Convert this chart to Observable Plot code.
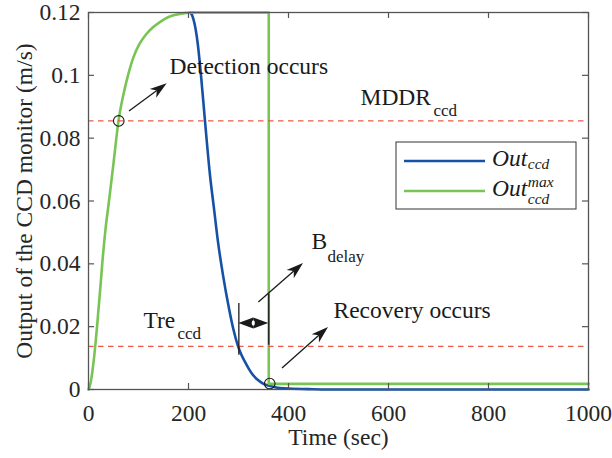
<!DOCTYPE html>
<html><head><meta charset="utf-8">
<script src="https://cdn.jsdelivr.net/npm/d3@7"></script>
<script src="https://cdn.jsdelivr.net/npm/@observablehq/plot@0.6"></script>
<style>
html,body{margin:0;padding:0;background:#fff;}
#chart{width:612px;height:458px;}
#chart svg text{font-family:"Liberation Serif","Times New Roman",serif;}
</style></head><body><div id="chart"></div>
<script>
// ---- data ----
const xTicks = [0, 200, 400, 600, 800, 1000];
const yTicks = [0, 0.02, 0.04, 0.06, 0.08, 0.1, 0.12];
const yTickLabels = ["0", "0.02", "0.04", "0.06", "0.08", "0.1", "0.12"];

const thresholdNames = ["MDDR", "Tre"];
const thresholdValues = [0.0855, 0.0137];

// Out_ccd^max (green): rise, then hold, then drop at recovery
const greenRiseT = [0, 4, 8, 12, 16, 20, 24, 28, 34, 41, 50, 60, 70, 79, 90, 102, 115, 129, 145, 159, 175, 192, 210];
const greenRiseV = [0, 0.002, 0.006, 0.0115, 0.018, 0.0255, 0.033, 0.041, 0.051, 0.060, 0.072, 0.0855, 0.094, 0.100, 0.1058, 0.110, 0.113, 0.1153, 0.1172, 0.1185, 0.1193, 0.1198, 0.12];
const greenStepT = [210, 360.5, 360.5, 1000];
const greenStepV = [0.12, 0.12, 0.0018, 0.0018];

// Out_ccd (blue): decay after the peak
const blueT = [204, 208, 212, 218, 225, 233, 243, 251, 259, 269, 281, 290, 299, 306, 313, 321, 329, 339, 349, 369, 400, 450, 500, 1000];
const blueV = [0.12, 0.1188, 0.1165, 0.1107, 0.100, 0.0854, 0.0682, 0.0576, 0.047, 0.0364, 0.0258, 0.019, 0.0138, 0.011, 0.0088, 0.0065, 0.0046, 0.003, 0.0019, 0.0009, 0.0003, 0.0001, 0, 0];

// event markers (circles)
const markerT = [60.5, 362.5];
const markerV = [0.0855, 0.0019];

// annotation arrows (tail -> tip)
const arrowX1 = [82, 340.7, 388];
const arrowY1 = [0.0885, 0.0277, 0.0067];
const arrowX2 = [157.3, 430, 480];
const arrowY2 = [0.0973, 0.0401, 0.0197];

// B_delay span
const delayBarT = [300.7, 360.5];
const delayBarLow = [0.0109, 0.0141];
const delayBarHigh = [0.0274, 0.0302];
const delaySpanV = 0.0210;

// annotation texts
const labelText = ["Detection occurs", "MDDR", "B", "Recovery occurs", "Tre"];
const labelT = [162, 544, 446, 490, 110];
const labelV = [0.1003, 0.0904, 0.0446, 0.0229, 0.0197];
const subText = ["ccd", "delay", "ccd"];
const subT = [690, 478, 178];
const subV = [0.0872, 0.0407, 0.0162];

// legend
const legendBase = ["Out", "Out"];
const legendSub = ["ccd", "ccd"];
const legendSup = ["", "max"];

// ---- styles ----
const BLUE = "#1651a6", GREEN = "#78c455", RED = "#ec5a46", AXIS = "#555", INK = "#1a1a1a";
const FONT = "Liberation Serif, Times New Roman, serif";
const FS = 23.5, SUBFS = 17;
const W = 612, H = 458, ML = 88, MR = 24, MT = 12, MB = 69;
const frameW = W - ML - MR, frameH = H - MT - MB, TICK = 6;

// ---- tables ----
const greenRise = greenRiseT.map((t, i) => ({t, v: greenRiseV[i]}));
const greenStep = greenStepT.map((t, i) => ({t, v: greenStepV[i]}));
const blue = blueT.map((t, i) => ({t, v: blueV[i]}));
const markers = markerT.map((t, i) => ({t, v: markerV[i]}));
const arrows = arrowX1.map((x1, i) => ({x1, y1: arrowY1[i], x2: arrowX2[i], y2: arrowY2[i]}));
const bars = delayBarT.map((t, i) => ({t, lo: delayBarLow[i], hi: delayBarHigh[i]}));
const labels = labelText.map((s, i) => ({s, t: labelT[i], v: labelV[i]}));
const subs = subText.map((s, i) => ({s, t: subT[i], v: subV[i]}));

function headPath(x1, y1, x2, y2, hl, hw, notch) {
  const L = Math.hypot(x2 - x1, y2 - y1), ux = (x2 - x1) / L, uy = (y2 - y1) / L;
  const px = -uy, py = ux;
  const bx = x2 - ux * hl, by = y2 - uy * hl;
  const nx = x2 - ux * hl * notch, ny = y2 - uy * hl * notch;
  return {d: `M${x2},${y2}L${bx + px * hw},${by + py * hw}L${nx},${ny}L${bx - px * hw},${by - py * hw}Z`, nx, ny};
}

const annotationMark = (index, scales) => {
  const g = d3.create("svg:g");
  for (const a of arrows) {
    const x1 = scales.x(a.x1), y1 = scales.y(a.y1), x2 = scales.x(a.x2), y2 = scales.y(a.y2);
    const h = headPath(x1, y1, x2, y2, 17, 5.5, 0.72);
    g.append("line").attr("x1", x1).attr("y1", y1).attr("x2", h.nx).attr("y2", h.ny)
      .attr("stroke", INK).attr("stroke-width", 1.3);
    g.append("path").attr("d", h.d).attr("fill", INK);
  }
  const xa = scales.x(delayBarT[0]), xb = scales.x(delayBarT[1]), yc = scales.y(delaySpanV);
  const xm = (xa + xb) / 2;
  g.append("path").attr("d", headPath(xm, yc, xa, yc, xm - xa, 5.5, 1).d).attr("fill", INK);
  g.append("path").attr("d", headPath(xm, yc, xb, yc, xb - xm, 5.5, 1).d).attr("fill", INK);
  g.append("ellipse").attr("cx", xm).attr("cy", yc).attr("rx", 1.6).attr("ry", 2.8).attr("fill", "#fff");
  return g.node();
};

const legendMark = (index, scales, values, dims) => {
  const right = dims.width - dims.marginRight - 12, top = dims.marginTop + 130;
  const bw = 180, bh = 67, left = right - bw;
  const g = d3.create("svg:g").attr("class", "legend-g").attr("text-anchor", "start");
  g.append("rect").attr("x", left).attr("y", top).attr("width", bw).attr("height", bh)
    .attr("fill", "#fff").attr("stroke", "#333").attr("stroke-width", 1);
  const colors = [BLUE, GREEN];
  legendBase.forEach((b, i) => {
    const ly = top + 19 + i * 30, base = top + 24 + i * 30;
    g.append("line").attr("x1", left + 8).attr("x2", left + 89).attr("y1", ly).attr("y2", ly)
      .attr("stroke", colors[i]).attr("stroke-width", 2.6);
    const tx = left + 96;
    g.append("text").attr("class", "leg-base").attr("data-i", i).attr("x", tx).attr("y", base)
      .attr("text-anchor", "start").attr("font-family", FONT).attr("font-style", "italic")
      .attr("font-size", FS).attr("fill", INK).text(b);
    const hasSup = legendSup[i] !== "";
    g.append("text").attr("class", "leg-script").attr("data-i", i).attr("x", tx + 35).attr("y", base + (hasSup ? 8 : 3))
      .attr("text-anchor", "start").attr("font-family", FONT).attr("font-style", "italic").attr("font-size", 15.5).attr("fill", INK).text(legendSub[i]);
    if (hasSup) g.append("text").attr("class", "leg-script").attr("data-i", i).attr("x", tx + 35).attr("y", base - 9)
      .attr("text-anchor", "start").attr("font-family", FONT).attr("font-style", "italic").attr("font-size", 15.5).attr("fill", INK).text(legendSup[i]);
  });
  return g.node();
};

const txt = {fontFamily: FONT, fill: INK};
const plot = Plot.plot({
  width: W, height: H,
  marginLeft: ML, marginRight: MR, marginTop: MT, marginBottom: MB,
  x: {domain: [0, 1000], axis: null},
  y: {domain: [0, 0.12], axis: null},
  style: {fontFamily: FONT, background: "#fff", color: "#262626"},
  marks: [
    Plot.line(blue, {x: "t", y: "v", stroke: BLUE, strokeWidth: 2.6, curve: "monotone-x"}),
    Plot.line(greenRise, {x: "t", y: "v", stroke: GREEN, strokeWidth: 2.6, curve: "monotone-x"}),
    Plot.line(greenStep, {x: "t", y: "v", stroke: GREEN, strokeWidth: 2.6}),
    Plot.ruleY(thresholdValues, {stroke: RED, strokeWidth: 1.3, strokeDasharray: "5.5,4.5"}),
    Plot.dot(markers, {x: "t", y: "v", r: 5.3, stroke: INK, strokeWidth: 1.1, fill: "none"}),
    Plot.ruleX(bars, {x: "t", y1: "lo", y2: "hi", stroke: INK, strokeWidth: 1.3}),
    annotationMark,
    Plot.text(labels, {x: "t", y: "v", text: "s", textAnchor: "start", lineAnchor: "bottom", fontSize: FS, ...txt}),
    Plot.text(subs, {x: "t", y: "v", text: "s", textAnchor: "start", lineAnchor: "bottom", fontSize: SUBFS, ...txt}),
    Plot.ruleX(xTicks, {stroke: AXIS, strokeWidth: 1.2, insetTop: frameH - TICK}),
    Plot.ruleX(xTicks, {stroke: AXIS, strokeWidth: 1.2, insetBottom: frameH - TICK}),
    Plot.ruleY(yTicks, {stroke: AXIS, strokeWidth: 1.2, insetRight: frameW - TICK}),
    Plot.ruleY(yTicks, {stroke: AXIS, strokeWidth: 1.2, insetLeft: frameW - TICK}),
    Plot.frame({stroke: AXIS, strokeWidth: 1.3}),
    Plot.text(xTicks, {x: d => d, text: d => String(d), frameAnchor: "bottom", textAnchor: "middle", dy: 31, lineAnchor: "bottom", fontSize: FS, fontFamily: FONT, fill: "#262626"}),
    Plot.text(yTicks, {y: d => d, text: (d, i) => yTickLabels[i], frameAnchor: "left", textAnchor: "end", dx: -8, lineAnchor: "middle", fontSize: FS, fontFamily: FONT, fill: "#262626"}),
    Plot.text(["Time (sec)"], {frameAnchor: "bottom", textAnchor: "middle", dy: 55, lineAnchor: "bottom", fontSize: FS, fontFamily: FONT, fill: "#262626"}),
    Plot.text(["Output of the CCD monitor (m/s)"], {frameAnchor: "left", textAnchor: "middle", rotate: -90, dx: -57, lineAnchor: "bottom", fontSize: FS, fontFamily: FONT, fill: "#262626"}),
    legendMark
  ]
});
document.getElementById("chart").appendChild(plot);

// place legend sub/superscripts right after the measured base text
d3.select(plot).selectAll("text.leg-base").each(function () {
  const i = this.getAttribute("data-i");
  const x = +this.getAttribute("x") + this.getComputedTextLength() + 0.5;
  d3.select(plot).selectAll(`text.leg-script[data-i="${i}"]`).attr("x", x);
});
</script>
</body></html>
